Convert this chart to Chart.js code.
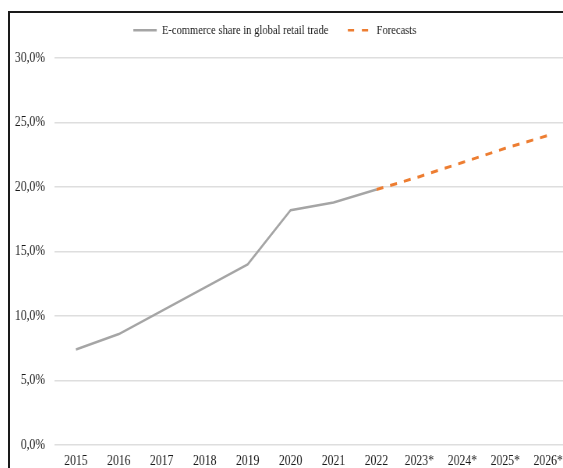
<!DOCTYPE html>
<html>
<head>
<meta charset="utf-8">
<script src="https://cdn.jsdelivr.net/npm/chart.js@4"></script>
<style>
  html, body { margin: 0; padding: 0; background: #fff; overflow: hidden; }
  body { width: 563px; height: 468px; position: relative; }
  #frame {
    position: absolute; left: 8px; top: 11px; width: 600px; height: 500px;
    border-left: 2px solid #1a1a1a; border-top: 2px solid #1a1a1a;
  }
  /* chart drawn wide, then squeezed horizontally for the narrow serif look */
  #wrap {
    position: absolute; left: 10px; top: 13px; width: 719px; height: 467px;
    transform: scaleX(0.78); transform-origin: 0 0;
  }
</style>
</head>
<body>
<div id="frame"></div>
<div id="wrap"><canvas id="myChart"></canvas></div>
<script>
var ctx = document.getElementById('myChart').getContext('2d');

// years, actual share and forecast share (in %)
const years = ['2015', '2016', '2017', '2018', '2019', '2020', '2021', '2022', '2023*', '2024*', '2025*', '2026*'];
const ecomShare = [7.4, 8.6, 10.4, 12.2, 14.0, 18.2, 18.8, 19.8];
const forecastShare = [null, null, null, null, null, null, null, 19.8, 20.8, 21.9, 23.0, 24.0];
const yTicks = [0, 5, 10, 15, 20, 25, 30];

const serif = '"Liberation Serif", "Times New Roman", serif';
const tickFont = { family: serif, size: 15 };
const legendFont = { family: serif, size: 13.5 };

// move the legend up and a bit left of center
const legendShift = {
  id: 'legendShift',
  afterLayout(chart) {
    chart.legend.left -= 20;
    chart.legend.right -= 20;
    chart.legend.top -= 11;
    chart.legend.bottom -= 11;
  }
};

// keep the dash pattern in the legend samples
const legendLabels = function (chart) {
  const items = Chart.defaults.plugins.legend.labels.generateLabels(chart);
  items.forEach(function (item) {
    const ds = chart.data.datasets[item.datasetIndex];
    item.lineDash = ds.borderDash ? [8, 10] : [];
    item.lineWidth = 2.5;
  });
  return items;
};

// eslint-disable-next-line no-unused-vars
var chart = new Chart(ctx, {
  type: 'line',
  data: {
    labels: years,
    datasets: [{
      label: 'E-commerce share in global retail trade',
      data: ecomShare,
      borderColor: '#a5a5a5',
      backgroundColor: '#a5a5a5',
      borderWidth: 2.5,
      pointRadius: 0,
      tension: 0
    }, {
      label: 'Forecasts',
      data: forecastShare,
      borderColor: '#ed7d31',
      backgroundColor: '#ed7d31',
      borderWidth: 3,
      borderDash: [9, 9],
      pointRadius: 0,
      tension: 0
    }]
  },
  options: {
    responsive: true,
    maintainAspectRatio: false,
    animation: false,
    layout: { padding: { top: -3.5 } },
    plugins: {
      tooltip: { enabled: false },
      legend: {
        position: 'top',
        labels: {
          color: '#1a1a1a',
          font: legendFont,
          usePointStyle: true,
          pointStyle: 'line',
          pointStyleWidth: 30,
          padding: 25,
          generateLabels: legendLabels
        }
      }
    },
    scales: {
      x: {
        offset: true,
        grid: { display: false, drawTicks: false },
        border: { display: false },
        ticks: { color: '#1a1a1a', font: tickFont, padding: 7, maxRotation: 0, autoSkip: false },
        afterFit: function (scale) { scale.height = 35; }
      },
      y: {
        min: 0,
        max: 30,
        afterBuildTicks: function (scale) { scale.ticks = yTicks.map(v => ({ value: v })); },
        grid: { color: '#dedede', lineWidth: 1.5, drawTicks: false },
        border: { display: false },
        ticks: {
          color: '#1a1a1a',
          font: tickFont,
          padding: 12,
          callback: v => v.toFixed(1).replace('.', ',') + '%'
        },
        afterFit: function (scale) { scale.width = 57; }
      }
    }
  },
  plugins: [legendShift]
});
</script>
</body>
</html>
